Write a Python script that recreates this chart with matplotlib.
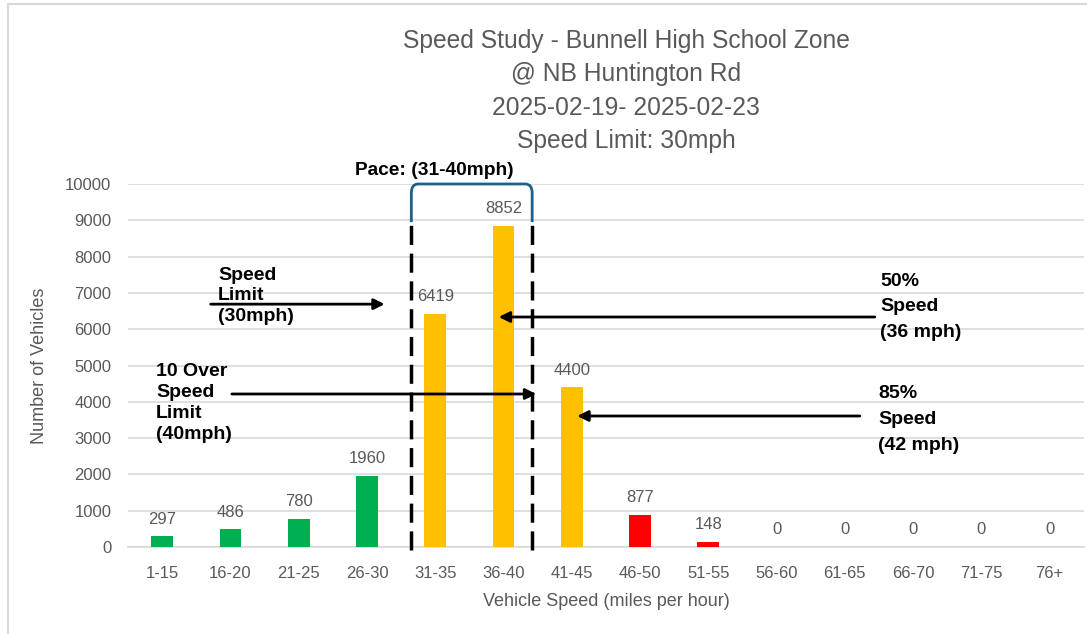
import numpy as np
import matplotlib.pyplot as plt
from matplotlib.path import Path
from matplotlib.patches import PathPatch

plt.rcParams['font.family'] = ['Liberation Sans', 'DejaVu Sans']

# 데이터
speed_bins = ["1-15", "16-20", "21-25", "26-30", "31-35", "36-40", "41-45",
              "46-50", "51-55", "56-60", "61-65", "66-70", "71-75", "76+"]
vehicles = [297, 486, 780, 1960, 6419, 8852, 4400, 877, 148, 0, 0, 0, 0, 0]
bar_colors = ["#00B050"] * 4 + ["#FFC000"] * 3 + ["#FF0000"] * 2 + ["#00B050"] * 5

title_lines = ["Speed Study - Bunnell High School Zone", "@ NB Huntington Rd",
               "2025-02-19- 2025-02-23", "Speed Limit: 30mph"]

gray = "#595959"

fig = plt.figure(figsize=(10.87, 6.34), dpi=100)
ax = fig.add_axes([0.1178, 0.1372, 0.8792, 0.5726])

# 차트 테두리 (왼쪽, 위쪽)
fig.add_artist(plt.Line2D([8 / 1087, 8 / 1087], [0, 1 - 4 / 634],
                          color='#D9D9D9', linewidth=1.5))
fig.add_artist(plt.Line2D([8 / 1087, 1], [1 - 4 / 634, 1 - 4 / 634],
                          color='#D9D9D9', linewidth=1.5))

x = np.arange(len(speed_bins))
ax.bar(x, vehicles, width=0.32, color=bar_colors, zorder=3)
for xi, v in zip(x, vehicles):
    ax.annotate(str(v), (xi, v), xytext=(0, 7), textcoords='offset points',
                ha='center', va='bottom', fontsize=12, color=gray)

ax.set_xlim(-0.5, len(speed_bins) - 0.5)
ax.set_ylim(0, 10000)
ax.set_yticks(np.arange(0, 10001, 1000))
ax.set_xticks(x)
ax.set_xticklabels(speed_bins)
ax.tick_params(axis='both', length=0, labelsize=12, colors=gray, pad=12)
ax.tick_params(axis='x', pad=14)
ax.grid(axis='y', color='#D9D9D9', linewidth=1.2, zorder=0)
for s in ['top', 'right', 'left']:
    ax.spines[s].set_visible(False)
ax.spines['bottom'].set_color('#D9D9D9')
ax.spines['bottom'].set_linewidth(1.2)

ax.set_ylabel("Number of Vehicles", fontsize=13, color=gray, labelpad=12)
ax.set_xlabel("Vehicle Speed (miles per hour)", fontsize=13, color=gray, labelpad=8)

# 제목
for i, t in enumerate(title_lines):
    fig.text(0.576, 0.936 - i * 0.053, t, ha='center', va='center',
             fontsize=17.7, color=gray)

# Pace 구간 점선
for xd in [3.65, 5.42]:
    ax.plot([xd, xd], [-80, 8950], color='black', linestyle=(0, (5.5, 2.5)),
            linewidth=2.5, clip_on=False, zorder=4)

# 괄호
xl, xr, yb, yt = 3.65, 5.42, 8950, 10000
rx, ry = 0.1, 250
verts = [(xl, yb), (xl, yt - ry), (xl, yt), (xl + rx, yt),
         (xr - rx, yt), (xr, yt), (xr, yt - ry), (xr, yb)]
codes = [Path.MOVETO, Path.LINETO, Path.CURVE3, Path.CURVE3,
         Path.LINETO, Path.CURVE3, Path.CURVE3, Path.LINETO]
ax.add_patch(PathPatch(Path(verts, codes), fill=False, edgecolor='#1F5F8B',
                       linewidth=2, clip_on=False, zorder=5))
ax.text(3.99, 10150, "Pace: (31-40mph)", ha='center', va='bottom',
        fontsize=13.8, fontweight='bold')

# 화살표 주석
arrow = dict(arrowstyle='-|>', color='black', lw=2, mutation_scale=16)
ax.annotate("", xy=(3.30, 6690), xytext=(0.67, 6690), arrowprops=arrow, zorder=6)
ax.annotate("", xy=(5.52, 4215), xytext=(0.98, 4215), arrowprops=arrow, zorder=6)
ax.annotate("", xy=(4.89, 6336), xytext=(10.48, 6336), arrowprops=arrow, zorder=6)
ax.annotate("", xy=(6.04, 3609), xytext=(10.26, 3609), arrowprops=arrow, zorder=6)

ax.text(0.82, 6915, "Speed\nLimit\n(30mph)", fontsize=14, fontweight='bold',
        va='center', ha='left', linespacing=1.25)
ax.text(-0.09, 3967, "10 Over\nSpeed\nLimit\n(40mph)", fontsize=14, fontweight='bold',
        va='center', ha='left', linespacing=1.3)
ax.text(10.52, 6612, "50%\nSpeed\n(36 mph)", fontsize=14, fontweight='bold',
        va='center', ha='left', linespacing=1.65)
ax.text(10.49, 3512, "85%\nSpeed\n(42 mph)", fontsize=14, fontweight='bold',
        va='center', ha='left', linespacing=1.7)

fig.savefig("out.png", dpi=100)
